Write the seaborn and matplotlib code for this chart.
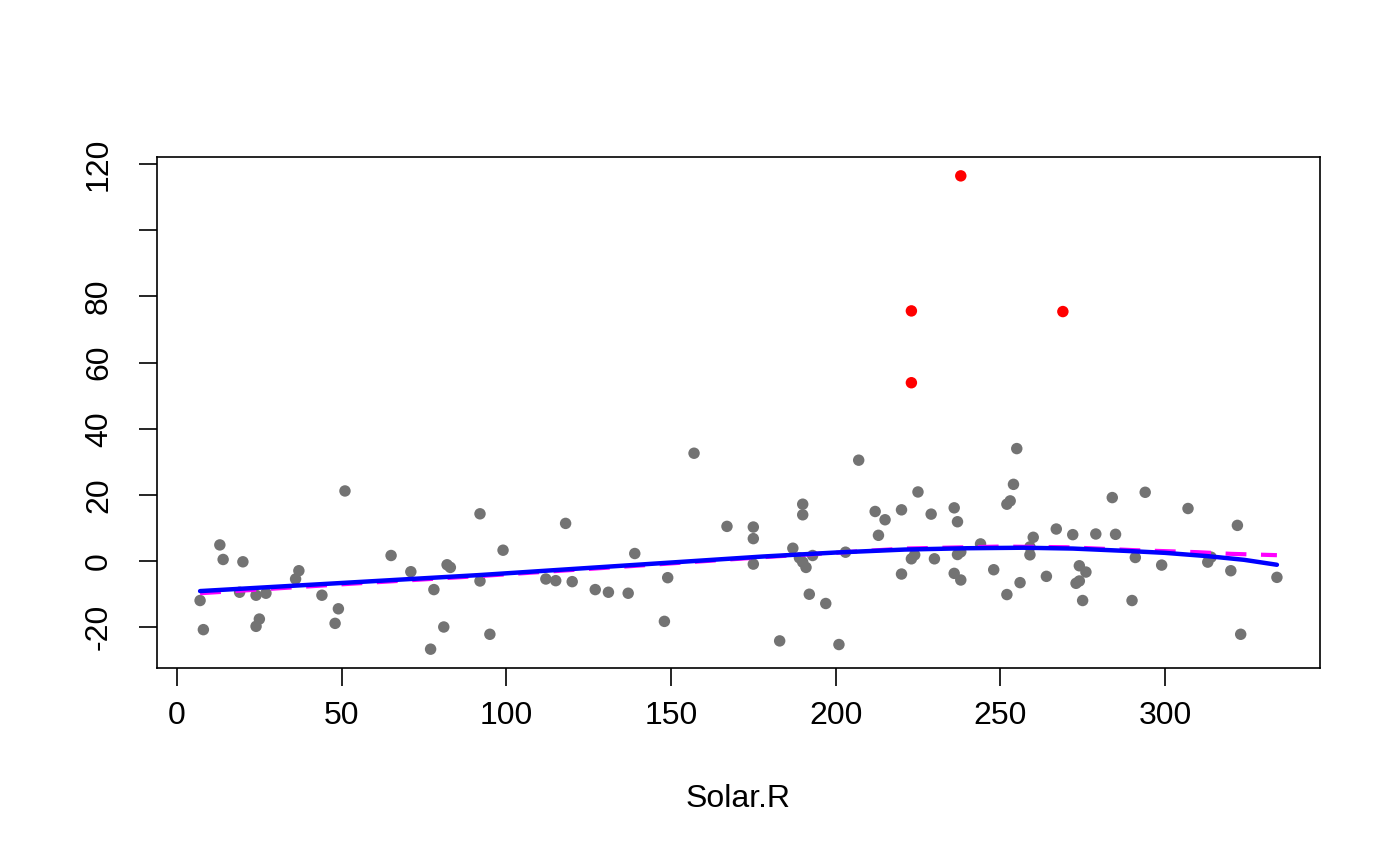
import matplotlib
matplotlib.use("Agg")
import matplotlib.pyplot as plt
import seaborn as sns
import pandas as pd

# ---- data ----
solar_grey = [51, 13, 14, 20, 37, 36, 7, 19, 24, 27, 44, 49, 48, 25, 24, 8,
              92, 118, 99, 65, 71, 82, 83, 78, 92, 112, 115, 120, 81, 95, 77,
              157, 167, 175, 175, 175, 139, 127, 131, 137, 149, 148,
              207, 225, 190, 190, 212, 215, 220, 229, 236, 237, 213, 187, 189, 190, 193,
              191, 192, 197, 183, 201, 203, 220, 223, 224, 230, 236, 238, 237, 238,
              255, 254, 252, 253, 284, 294, 267, 272, 279, 285, 244, 260, 259, 259,
              248, 256, 252, 264, 274, 276, 273, 274, 275, 290, 291, 299,
              307, 322, 313, 314, 320, 334, 323]
resid_grey = [21.2, 4.9, 0.5, -0.2, -2.9, -5.4, -11.9, -9.4, -10.3, -9.7, -10.3, -14.4, -18.8, -17.5, -19.7, -20.7,
              14.3, 11.4, 3.3, 1.7, -3.2, -1.1, -1.9, -8.6, -6.0, -5.4, -5.9, -6.2, -19.9, -22.1, -26.6,
              32.6, 10.5, 10.3, 6.8, -0.9, 2.3, -8.6, -9.4, -9.7, -5.0, -18.2,
              30.5, 20.9, 17.2, 14.0, 15.0, 12.5, 15.5, 14.2, 16.1, 11.9, 7.8, 3.9, 1.0, -0.3, 1.7,
              -1.9, -10.0, -12.8, -24.1, -25.2, 2.7, -3.9, 0.7, 1.9, 0.7, -3.7, -5.7, 2.0, 2.8,
              34.0, 23.2, 17.2, 18.2, 19.2, 20.8, 9.7, 8.0, 8.2, 8.1, 5.2, 7.2, 4.3, 1.9,
              -2.6, -6.5, -10.1, -4.6, -1.4, -3.3, -6.7, -6.0, -11.9, -11.9, 1.1, -1.2,
              15.9, 10.8, -0.3, 1.2, -2.9, -4.9, -22.1]

solar_red = [238, 223, 223, 269]
resid_red = [116.4, 75.6, 53.9, 75.4]

fit_x = [7, 50, 92, 135, 178, 200, 221, 240, 257, 272, 288, 300, 313, 324, 334]
fit_y = [-9.05, -6.6, -4.2, -1.4, 1.4, 2.6, 3.5, 3.9, 4.05, 3.8, 3.1, 2.5, 1.5, 0.4, -1.1]

smooth_x = [7, 50, 92, 135, 178, 221, 250, 270, 291, 310, 320, 334]
smooth_y = [-9.7, -7.0, -4.5, -1.7, 1.2, 3.8, 4.4, 4.2, 3.3, 2.7, 2.2, 1.8]

x_ticks = [0, 50, 100, 150, 200, 250, 300]
y_ticks = [-20, 0, 20, 40, 60, 80, 100, 120]
y_tick_labels = ["-20", "0", "20", "40", "60", "80", "", "120"]
x_label = "Solar.R"

# ---- plot ----
sns.set_theme(style="white")
plt.rcParams["font.family"] = ["Liberation Sans", "DejaVu Sans"]

fig = plt.figure(figsize=(14, 8.65), dpi=100)
ax = fig.add_axes([0.1121, 0.2277, 0.8308, 0.5908])

grey = pd.DataFrame({"x": solar_grey, "y": resid_grey})
red = pd.DataFrame({"x": solar_red, "y": resid_red})
fit = pd.DataFrame({"x": fit_x, "y": fit_y})
smo = pd.DataFrame({"x": smooth_x, "y": smooth_y})

sns.scatterplot(data=grey, x="x", y="y", ax=ax, color="#737373", s=68,
                edgecolor="none", zorder=2)
sns.scatterplot(data=red, x="x", y="y", ax=ax, color="#FF0000", s=68,
                edgecolor="none", zorder=2)
sns.lineplot(data=smo, x="x", y="y", ax=ax, color="#FF00FF", lw=3.0,
             dashes=False, zorder=3, sort=True)
ax.lines[-1].set_dashes([5, 3.5])
sns.lineplot(data=fit, x="x", y="y", ax=ax, color="#0000FF", lw=3.2, zorder=4)

ax.set_xlim(-6.1, 347.1)
ax.set_ylim(-32.3, 122.1)
ax.set_xticks(x_ticks)
ax.set_xticklabels([str(t) for t in x_ticks])
ax.set_yticks(y_ticks)
ax.set_yticklabels(y_tick_labels, rotation=90, va="center")

for s in ax.spines.values():
    s.set_visible(True)
    s.set_color("black")
    s.set_linewidth(1.2)

ax.tick_params(axis="both", which="major", direction="out", length=13,
               width=1.2, color="black", labelsize=23, labelcolor="black",
               bottom=True, left=True)
ax.tick_params(axis="x", pad=11)
ax.tick_params(axis="y", pad=18)

ax.set_xlabel(x_label, fontsize=23, labelpad=38, color="black")
ax.set_ylabel("")
ax.grid(False)

fig.savefig("out.png", dpi=100)
